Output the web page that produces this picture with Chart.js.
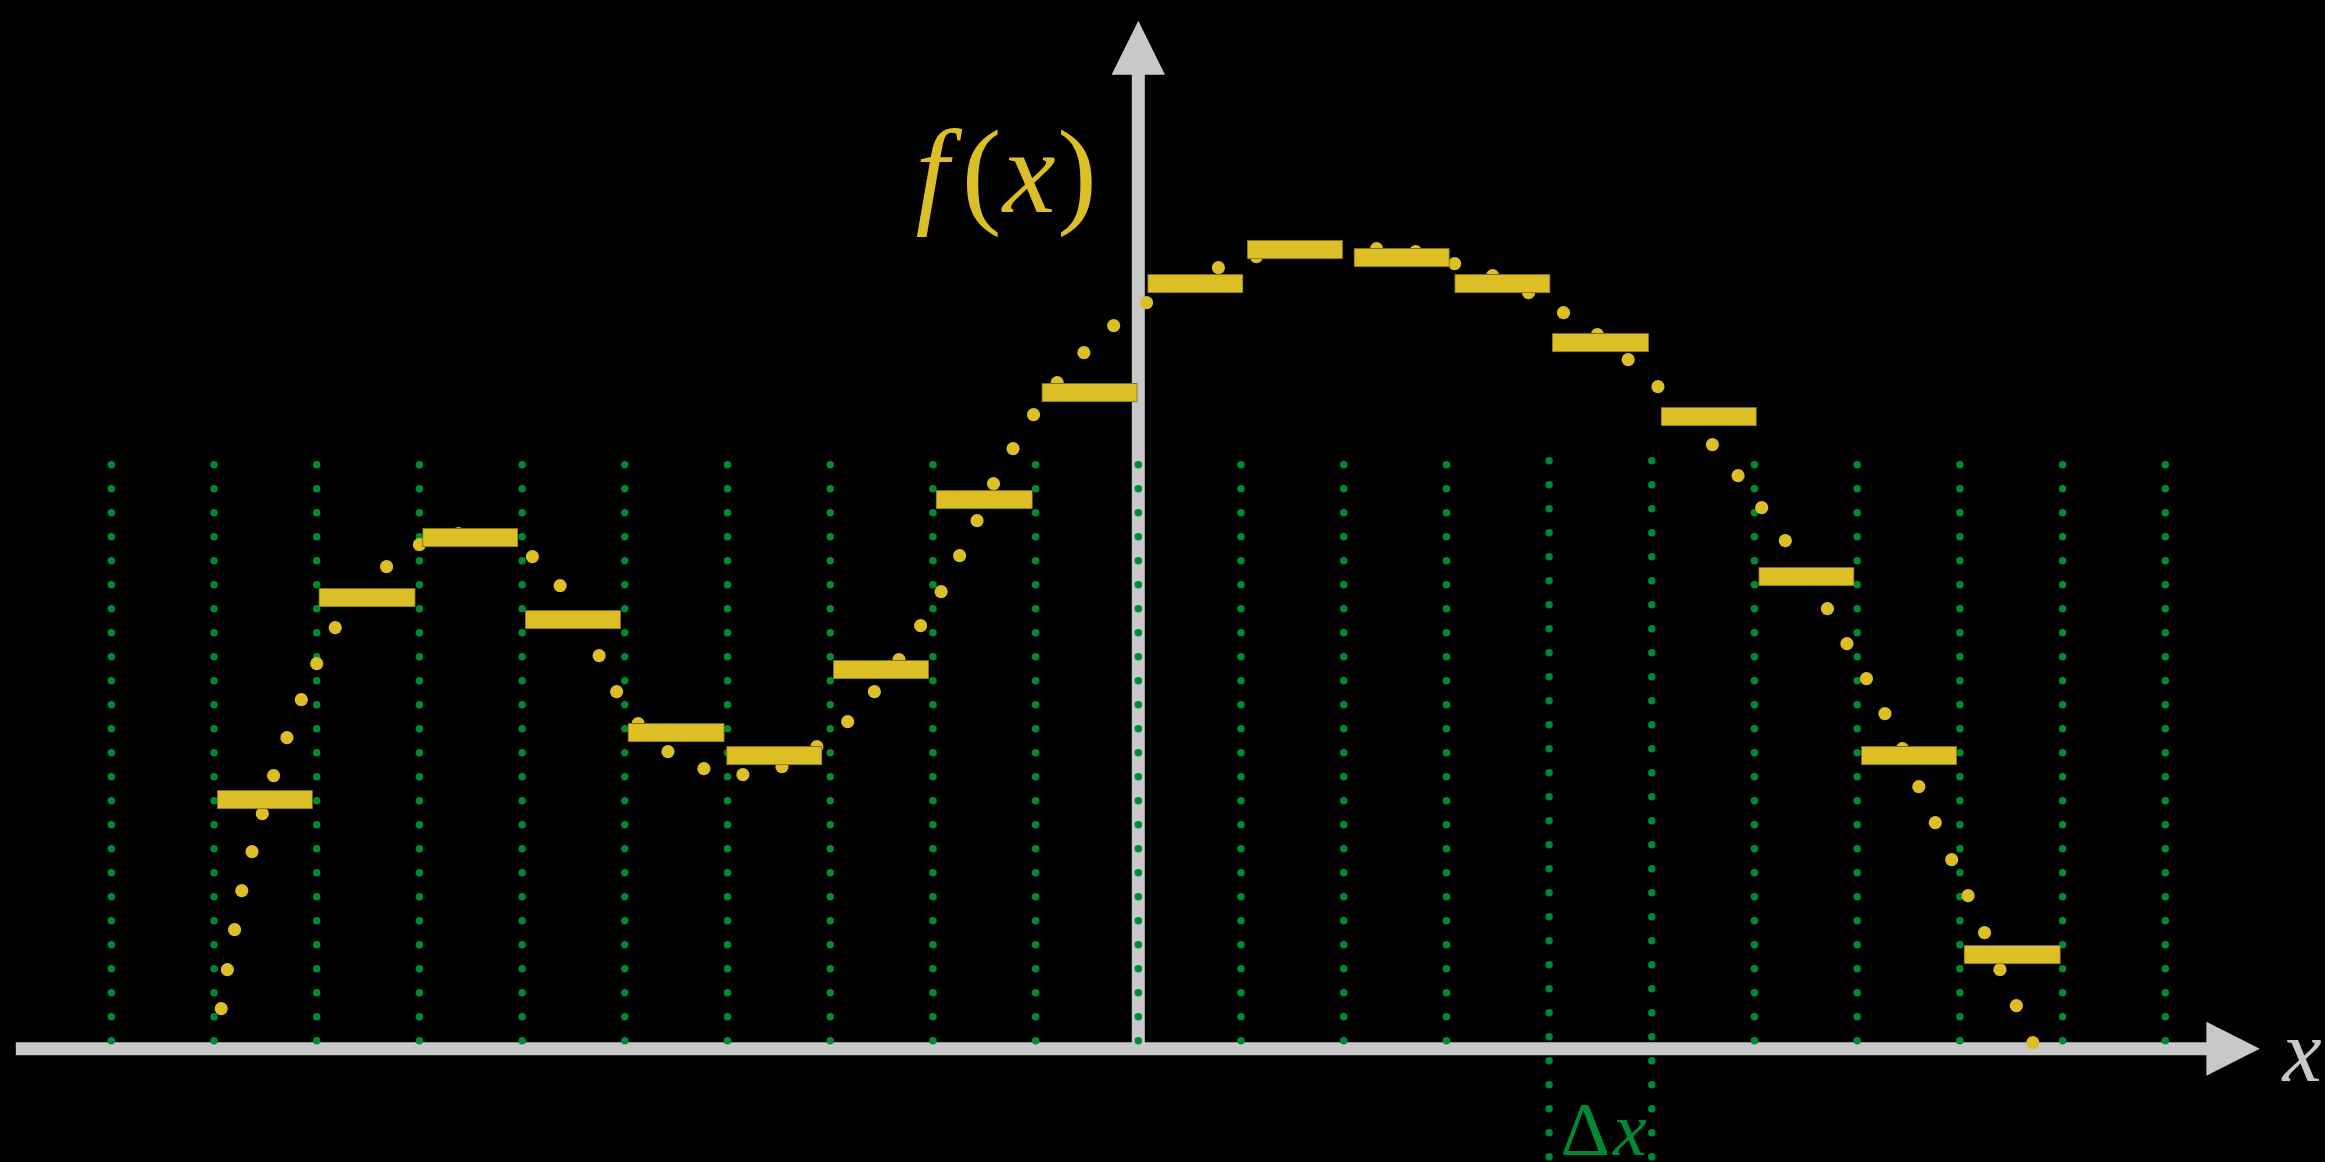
<!DOCTYPE html>
<html>
<head>
<meta charset="utf-8">
<title>Riemann steps</title>
<script src="https://cdn.jsdelivr.net/npm/chart.js"></script>
<style>
  html, body { margin: 0; padding: 0; background: #000; }
  canvas { display: block; }
</style>
</head>
<body>
<canvas id="chart" width="2325" height="1162"></canvas>
<script>
// x in units of one grid step (0 = the f(x) axis), y in arbitrary height units
const gridX = [-10, -9, -8, -7, -6, -5, -4, -3, -2, -1, 0, 1, 2, 3, 4, 5, 6, 7, 8, 9, 10];
const deltaCols = [4, 5];

// yellow steps: left edge, right edge, height
const stepLeft = [-8.97, -7.98, -6.97, -5.97, -4.97, -4.01, -2.97, -1.97, -0.94, 0.09, 1.06, 2.10, 3.08, 4.03, 5.09, 6.04, 7.04, 8.04];
const stepRight = [-8.04, -7.04, -6.04, -5.04, -4.03, -3.08, -2.04, -1.03, -0.01, 1.02, 1.99, 3.03, 4.01, 4.97, 6.02, 6.97, 7.97, 8.98];
const stepHeight = [2.49, 4.51, 5.11, 4.29, 3.16, 2.93, 3.79, 5.49, 6.56, 7.65, 7.99, 7.91, 7.65, 7.06, 6.32, 4.72, 2.93, 0.94];

// sampled curve points
const curveX = [-8.93, -8.87, -8.80, -8.73, -8.63, -8.53, -8.42, -8.29, -8.15, -8.00,
  -7.82, -7.59, -7.32, -7.00, -6.62, -6.25, -5.90, -5.63, -5.44, -5.25,
  -5.08, -4.87, -4.58, -4.23, -3.85, -3.47, -3.13, -2.83, -2.57, -2.33,
  -2.12, -1.92, -1.74, -1.57, -1.41, -1.22, -1.02, -0.79, -0.53, -0.24,
  0.08, 0.43, 0.78, 1.15, 1.54, 1.93, 2.32, 2.70, 3.08, 3.45,
  3.80, 4.14, 4.47, 4.77, 5.06, 5.33, 5.59, 5.84, 6.07, 6.30,
  6.50, 6.71, 6.90, 7.09, 7.27, 7.44, 7.60, 7.76, 7.92, 8.08,
  8.24, 8.39, 8.55, 8.71];
const curveY = [0.40, 0.79, 1.19, 1.58, 1.97, 2.35, 2.73, 3.11, 3.49, 3.85,
  4.21, 4.52, 4.82, 5.04, 5.15, 5.11, 4.92, 4.63, 4.28, 3.93,
  3.57, 3.25, 2.97, 2.80, 2.74, 2.82, 3.02, 3.27, 3.57, 3.89,
  4.23, 4.57, 4.93, 5.28, 5.65, 6.00, 6.34, 6.66, 6.96, 7.23,
  7.46, 7.65, 7.81, 7.92, 7.98, 8.01, 8.00, 7.97, 7.85, 7.73,
  7.56, 7.36, 7.14, 6.89, 6.62, 6.33, 6.04, 5.73, 5.41, 5.08,
  4.74, 4.40, 4.05, 3.70, 3.35, 3.00, 2.62, 2.26, 1.89, 1.53,
  1.16, 0.79, 0.43, 0.06];

const GREY = "#c8c8c8";
const YELLOW = "#dcbe26";
const GREEN = "#008a32";

// dotted grid columns (the two Δx columns run below the axis)
const gridSets = gridX.map((gx) => {
  const tall = deltaCols.includes(gx);
  return {
    type: "line",
    data: [
      { x: gx, y: tall ? -1.08 : 0.08 },
      { x: gx, y: tall ? 5.885 : 5.845 },
    ],
    borderColor: GREEN,
    borderWidth: 7.5,
    borderDash: [0, 24],
    borderCapStyle: "round",
    pointRadius: 0,
    order: 3,
  };
});

// axes with arrow heads, drawn under everything else
const axesPlugin = {
  id: "axes",
  beforeDatasetsDraw(chart) {
    const { ctx, scales: { x, y } } = chart;
    const ox = x.getPixelForValue(0);
    const oy = y.getPixelForValue(0);
    ctx.save();
    ctx.strokeStyle = GREY;
    ctx.fillStyle = GREY;
    ctx.lineWidth = 13;

    const xStart = x.getPixelForValue(-10.93);
    const xBase = x.getPixelForValue(10.4);
    const xTip = x.getPixelForValue(10.92);
    ctx.beginPath();
    ctx.moveTo(xStart, oy);
    ctx.lineTo(xBase + 1, oy);
    ctx.stroke();
    ctx.beginPath();
    ctx.moveTo(xTip, oy);
    ctx.lineTo(xBase, oy - 27);
    ctx.lineTo(xBase, oy + 27);
    ctx.closePath();
    ctx.fill();

    const yBase = y.getPixelForValue(9.74);
    const yTip = y.getPixelForValue(10.28);
    ctx.beginPath();
    ctx.moveTo(ox, oy);
    ctx.lineTo(ox, yBase - 1);
    ctx.stroke();
    ctx.beginPath();
    ctx.moveTo(ox, yTip);
    ctx.lineTo(ox - 26.7, yBase);
    ctx.lineTo(ox + 26.7, yBase);
    ctx.closePath();
    ctx.fill();
    ctx.restore();
  },
};

// f(x), x and Δx labels
const fxParts = [
  { text: "f", italic: true, x: -2.17 },
  { text: "(", italic: false, x: -1.72 },
  { text: "x", italic: true, x: -1.32 },
  { text: ")", italic: false, x: -0.79 },
];

const labelPlugin = {
  id: "labels",
  afterDatasetsDraw(chart) {
    const { ctx, scales: { x, y } } = chart;
    ctx.save();
    ctx.textAlign = "left";
    ctx.textBaseline = "alphabetic";

    ctx.fillStyle = YELLOW;
    fxParts.forEach((p) => {
      ctx.font = (p.italic ? "italic " : "") + '119px "Liberation Serif"';
      ctx.fillText(p.text, x.getPixelForValue(p.x), y.getPixelForValue(8.37));
    });

    ctx.fillStyle = GREY;
    ctx.font = 'italic 88px "Liberation Serif"';
    ctx.fillText("x", x.getPixelForValue(11.14), y.getPixelForValue(-0.32));

    ctx.fillStyle = GREEN;
    ctx.font = '77px "Liberation Serif"';
    const dx = x.getPixelForValue(4.11);
    const dy = y.getPixelForValue(-1.063);
    ctx.fillText("Δ", dx, dy);
    const w = ctx.measureText("Δ").width;
    ctx.font = 'italic 76px "Liberation Serif"';
    ctx.fillText("x", dx + w + 3, dy);
    ctx.restore();
  },
};

const ctx = document.getElementById("chart").getContext("2d");

new Chart(ctx, {
  type: "scatter",
  data: {
    datasets: [
      {
        type: "bar",
        indexAxis: "y",
        data: stepHeight.map((h, i) => ({ y: h, x: [stepLeft[i], stepRight[i]] })),
        backgroundColor: YELLOW,
        borderColor: "#7d6c16",
        borderWidth: 1,
        borderSkipped: false,
        barThickness: 18.5,
        order: 1,
      },
      {
        type: "scatter",
        data: curveX.map((cx, i) => ({ x: cx, y: curveY[i] })),
        backgroundColor: YELLOW,
        borderWidth: 0,
        pointRadius: 6.6,
        order: 2,
      },
      ...gridSets,
    ],
  },
  options: {
    responsive: false,
    devicePixelRatio: 1,
    animation: false,
    events: [],
    layout: { padding: 0, autoPadding: false },
    plugins: {
      legend: { display: false },
      tooltip: { enabled: false },
    },
    scales: {
      x: { type: "linear", min: -11.084, max: 11.555, display: false, offset: false },
      y: { type: "linear", min: -1.133, max: 10.487, display: false, offset: false },
    },
  },
  plugins: [axesPlugin, labelPlugin],
});
</script>
</body>
</html>
